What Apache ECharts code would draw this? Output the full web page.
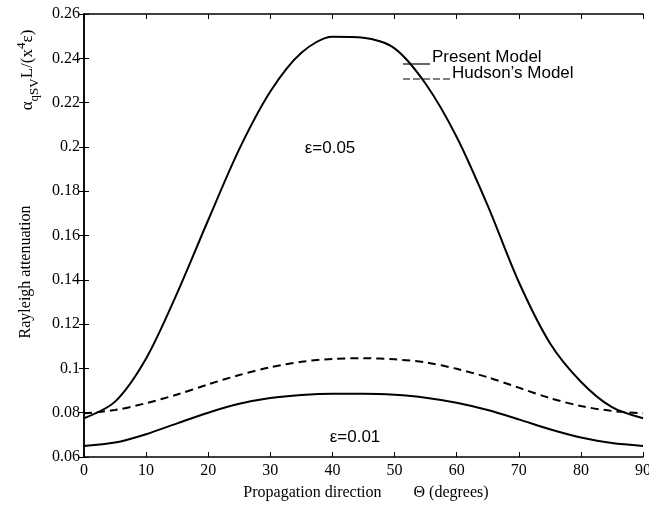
<!DOCTYPE html>
<html><head><meta charset="utf-8">
<script src="https://cdn.jsdelivr.net/npm/echarts@6/dist/echarts.min.js"></script>
<style>html,body{margin:0;padding:0;background:#fff;overflow:hidden}#c{width:649px;height:512px}</style>
</head><body><div id="c"></div>
<script>
var angles = [0,5,10,15,20,25,30,35,40,45,50,55,60,65,70,75,80,85,90];
var present005 = [0.0775,0.0850,0.1045,0.1340,0.1670,0.1990,0.2250,0.2425,0.2497,0.2493,0.2445,0.2285,0.2045,0.1735,0.1390,0.1115,0.0940,0.0825,0.0775];
var hudson005 = [0.0797,0.0812,0.0843,0.0882,0.0928,0.0970,0.1005,0.1030,0.1043,0.1046,0.1041,0.1027,0.0998,0.0960,0.0913,0.0866,0.0830,0.0808,0.0797];
var present001 = [0.0650,0.0665,0.0703,0.0752,0.0800,0.0840,0.0866,0.0880,0.0886,0.0886,0.0881,0.0868,0.0845,0.0812,0.0770,0.0725,0.0688,0.0663,0.0650];
var xTicks = [0,10,20,30,40,50,60,70,80,90];
var yTicks = [0.06,0.08,0.1,0.12,0.14,0.16,0.18,0.2,0.22,0.24,0.26];

function pairs(ys){ return angles.map(function(a,i){ return [a, ys[i]]; }); }
var serif = '"Liberation Serif","Times New Roman",serif';
var sans = '"Liberation Sans",Arial,sans-serif';
var chart = echarts.init(document.getElementById('c'), null, {renderer:'canvas', width:649, height:512});
var axLine = {show:true, lineStyle:{color:'#000', width:1.5}};
var tick = {show:true, inside:true, length:5, lineStyle:{color:'#000', width:1}};
chart.setOption({
  animation:false,
  backgroundColor:'#fff',
  grid:{left:84, right:6, top:14, bottom:55, containLabel:false, outerBoundsMode:'none'},
  xAxis:[
    {type:'value', min:0, max:90, interval:10, position:'bottom',
     axisLine:axLine, axisTick:tick, splitLine:{show:false},
     axisLabel:{color:'#000', fontFamily:serif, fontSize:16, margin:6}},
    {type:'value', min:0, max:90, interval:10, position:'top',
     axisLine:axLine, axisTick:tick, splitLine:{show:false}, axisLabel:{show:false}}
  ],
  yAxis:[
    {type:'value', min:0.06, max:0.26, interval:0.02, position:'left',
     axisLine:axLine, axisTick:tick, splitLine:{show:false},
     axisLabel:{color:'#000', fontFamily:serif, fontSize:16, margin:4,
       formatter:function(v){ return String(Math.round(v*100)/100); }}},
    {type:'value', min:0.06, max:0.26, interval:0.02, position:'right',
     axisLine:axLine, axisTick:tick, splitLine:{show:false}, axisLabel:{show:false}}
  ],
  series:[
    {type:'line', name:'Present Model', data:pairs(present005), smooth:0.3, showSymbol:false,
     lineStyle:{color:'#000', width:2}},
    {type:'line', name:"Hudson's Model", data:pairs(hudson005), smooth:0.3, showSymbol:false,
     lineStyle:{color:'#000', width:2, type:[8,5]}},
    {type:'line', name:'Present Model 0.01', data:pairs(present001), smooth:0.3, showSymbol:false,
     lineStyle:{color:'#000', width:2}}
  ],
  graphic:[
    {type:'line', shape:{x1:403,y1:64,x2:430,y2:64}, style:{stroke:'#000', lineWidth:1.2}},
    {type:'text', left:432, top:49, style:{text:'Present Model', font:'17px '+sans, fill:'#000'}},
    {type:'line', shape:{x1:403,y1:79,x2:452,y2:79}, style:{stroke:'#000', lineWidth:1.2, lineDash:[7,3]}},
    {type:'text', left:452, top:65, style:{text:"Hudson\u2019s Model", font:'17px '+sans, fill:'#000'}},
    {type:'text', x:330, y:148, style:{text:'\u03b5=0.05', font:'17px '+sans, fill:'#000', align:'center', verticalAlign:'middle'}},
    {type:'text', x:355, y:437, style:{text:'\u03b5=0.01', font:'17px '+sans, fill:'#000', align:'center', verticalAlign:'middle'}},
    {type:'text', x:366, y:493, style:{text:'Propagation direction        \u0398 (degrees)', font:'16px '+serif, fill:'#000', align:'center', verticalAlign:'middle'}},
    {type:'text', x:26, y:272, rotation:Math.PI/2, style:{text:'Rayleigh attenuation', font:'16px '+serif, fill:'#000', align:'center', verticalAlign:'middle'}},
    {type:'text', x:28, y:70, rotation:Math.PI/2,
     style:{text:'{a|\u03b1}{s|qSV}{a|L/(x}{p|4}{a|\u03b5)}', align:'center', verticalAlign:'middle',
       rich:{
         a:{fontFamily:serif, fontSize:17, fill:'#000', color:'#000', lineHeight:26, verticalAlign:'middle'},
         s:{fontFamily:serif, fontSize:13, fill:'#000', color:'#000', lineHeight:26, verticalAlign:'bottom'},
         p:{fontFamily:serif, fontSize:13, fill:'#000', color:'#000', lineHeight:26, verticalAlign:'top'}
       }}}
  ]
});
</script></body></html>
